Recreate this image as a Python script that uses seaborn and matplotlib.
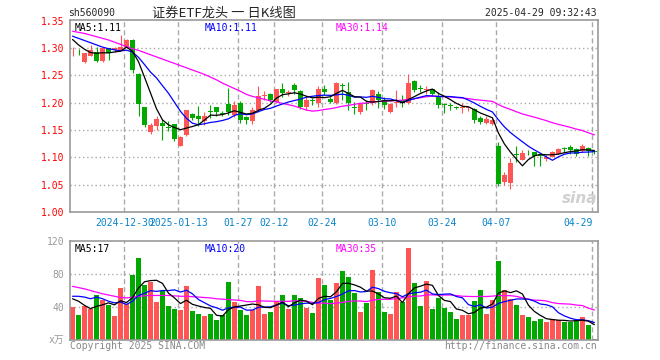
import numpy as np
import pandas as pd
import matplotlib
matplotlib.use("Agg")
import matplotlib.pyplot as plt
import seaborn as sns

# daily candles, index 0 = 2024-12-17 ... 87 = 2025-04-29
opens = [1.294, 1.2945, 1.274, 1.286, 1.2927, 1.2774, 1.300, 1.296, 1.297, 1.303,
         1.315, 1.253, 1.192, 1.1457, 1.158, 1.163, 1.155, 1.161, 1.121, 1.1415,
         1.180, 1.176, 1.166, 1.1835, 1.192, 1.1812, 1.198, 1.178, 1.200, 1.174,
         1.167, 1.187, 1.213, 1.217, 1.202, 1.225, 1.218, 1.2325, 1.221, 1.193,
         1.2045, 1.200, 1.226, 1.207, 1.199, 1.233, 1.220, 1.192, 1.184, 1.1995,
         1.199, 1.217, 1.206, 1.184, 1.200, 1.205, 1.199, 1.240, 1.226, 1.224,
         1.226, 1.211, 1.1985, 1.195, 1.192, 1.190, 1.190, 1.188, 1.172, 1.163,
         1.161, 1.121, 1.0555, 1.0537, 1.1065, 1.096, 1.1105, 1.110, 1.104, 1.0963,
         1.101, 1.107, 1.1155, 1.1195, 1.1146, 1.112, 1.118, 1.1112]
highs = [1.302, 1.298, 1.291, 1.305, 1.303, 1.301, 1.301, 1.302, 1.324, 1.316,
         1.317, 1.254, 1.193, 1.1628, 1.176, 1.170, 1.166, 1.162, 1.139, 1.187,
         1.182, 1.194, 1.184, 1.196, 1.192, 1.185, 1.227, 1.204, 1.204, 1.176,
         1.192, 1.230, 1.222, 1.218, 1.226, 1.236, 1.223, 1.237, 1.223, 1.212,
         1.208, 1.230, 1.232, 1.211, 1.238, 1.237, 1.238, 1.202, 1.200, 1.205,
         1.226, 1.222, 1.210, 1.199, 1.223, 1.214, 1.252, 1.241, 1.232, 1.230,
         1.226, 1.220, 1.200, 1.199, 1.195, 1.199, 1.193, 1.190, 1.175, 1.175,
         1.172, 1.129, 1.074, 1.098, 1.120, 1.113, 1.113, 1.110, 1.106, 1.104,
         1.1116, 1.1165, 1.1195, 1.1226, 1.1165, 1.1238, 1.1195, 1.1134]
lows = [1.285, 1.287, 1.272, 1.285, 1.275, 1.275, 1.279, 1.293, 1.296, 1.300,
        1.255, 1.175, 1.156, 1.1433, 1.1506, 1.131, 1.148, 1.130, 1.120, 1.139,
        1.168, 1.157, 1.160, 1.172, 1.176, 1.176, 1.178, 1.174, 1.163, 1.162,
        1.162, 1.184, 1.206, 1.202, 1.199, 1.210, 1.212, 1.217, 1.188, 1.187,
        1.196, 1.193, 1.214, 1.199, 1.198, 1.205, 1.187, 1.180, 1.180, 1.187,
        1.196, 1.190, 1.188, 1.182, 1.193, 1.192, 1.198, 1.220, 1.219, 1.217,
        1.214, 1.190, 1.182, 1.187, 1.188, 1.181, 1.185, 1.163, 1.162, 1.162,
        1.159, 1.048, 1.049, 1.043, 1.092, 1.095, 1.104, 1.085, 1.085, 1.094,
        1.100, 1.1055, 1.110, 1.107, 1.1025, 1.110, 1.1025, 1.107]
closes = [1.2945, 1.294, 1.291, 1.296, 1.2774, 1.300, 1.292, 1.300, 1.303, 1.315,
          1.260, 1.198, 1.1585, 1.1585, 1.170, 1.158, 1.153, 1.134, 1.138, 1.186,
          1.172, 1.170, 1.176, 1.183, 1.184, 1.180, 1.184, 1.196, 1.168, 1.169,
          1.187, 1.212, 1.214, 1.205, 1.225, 1.218, 1.220, 1.224, 1.193, 1.205,
          1.2035, 1.226, 1.220, 1.201, 1.236, 1.230, 1.199, 1.190, 1.197, 1.1975,
          1.223, 1.205, 1.196, 1.197, 1.202, 1.199, 1.236, 1.223, 1.225, 1.225,
          1.217, 1.196, 1.1965, 1.194, 1.191, 1.191, 1.191, 1.169, 1.164, 1.170,
          1.169, 1.052, 1.0677, 1.090, 1.105, 1.1085, 1.109, 1.102, 1.103, 1.1012,
          1.109, 1.1146, 1.115, 1.1134, 1.107, 1.1207, 1.112, 1.110]
volumes = [40, 30, 41, 38, 55, 49, 42, 29, 63, 44,
           79, 100, 67, 70, 46, 60, 41, 38, 36, 66,
           35, 31, 29, 31, 24, 30, 70, 46, 36, 30,
           36, 65, 31, 34, 46, 54, 37, 54, 51, 39,
           33, 75, 67, 48, 69, 84, 76, 57, 34, 45,
           85, 58, 34, 31, 58, 46, 112, 69, 41, 71,
           38, 51, 39, 34, 26, 30, 30, 47, 61, 31,
           49, 96, 61, 50, 42, 30, 28, 23, 26, 22,
           25, 24, 22, 22, 24, 28, 18, 1]

# moving-average values before the window is full
ma5_head = [1.316, 1.306, 1.298, 1.292]
ma10_head = [1.322, 1.318, 1.314, 1.310, 1.306, 1.302, 1.299, 1.297, 1.295]
ma30_head = [1.331, 1.329, 1.327, 1.324, 1.321, 1.318, 1.315, 1.311, 1.307, 1.303,
             1.299, 1.296, 1.292, 1.288, 1.284, 1.280, 1.276, 1.272, 1.268, 1.264,
             1.260, 1.256, 1.252, 1.247, 1.242, 1.236, 1.231, 1.226, 1.221]
vma5_head = [50, 47, 42, 38]
vma10_head = [53, 53, 52, 50, 52, 50, 47, 45, 46]
vma30_head = [65, 63.5, 62, 60, 58, 56, 54.5, 53, 51.5, 51,
              52, 53, 53.5, 54, 54, 54, 54, 53.5, 53, 53,
              52.5, 52, 51.5, 51, 50, 49.5, 49, 48.5, 48]

date_idx = [9, 18, 28, 34, 42, 52, 62, 71, 87]
date_labels = ["2024-12-30", "2025-01-13", "01-27", "02-12", "02-24",
               "03-10", "03-24", "04-07", "04-29"]
price_ticks = [1.00, 1.05, 1.10, 1.15, 1.20, 1.25, 1.30, 1.35]
vol_ticks = [40, 80, 120]

RED = "#ff5555"
GREEN = "#00a800"
GRID = "#aaaaaa"
FRAME = "#999999"
MONO = "DejaVu Sans Mono"


def moving(values, win, head):
    s = pd.Series(values, dtype=float).rolling(win).mean()
    s.iloc[:len(head)] = head
    return s.values


df = pd.DataFrame({"i": np.arange(len(closes)), "open": opens, "high": highs,
                   "low": lows, "close": closes, "vol": volumes})
df["up"] = np.where(df["close"] >= df["open"], "up", "down")
df["ma5"] = moving(closes, 5, ma5_head)
df["ma10"] = moving(closes, 10, ma10_head)
df["ma30"] = moving(closes, 30, ma30_head)
df["vma5"] = moving(volumes, 5, vma5_head)
df["vma10"] = moving(volumes, 10, vma10_head)
df["vma30"] = moving(volumes, 30, vma30_head)
cols = np.where(df["up"] == "up", RED, GREEN)

sns.set_style("white")
plt.rcParams["font.family"] = [MONO, "Noto Sans CJK SC"]

fig = plt.figure(figsize=(6.6, 3.6), dpi=100)
ax = fig.add_axes([70 / 660, 1 - 212 / 360, 528 / 660, 192 / 360])
axv = fig.add_axes([70 / 660, 1 - 340 / 360, 528 / 660, 99 / 360])

xlim = (-0.42, 87.6)
vx = [d - 0.35 for d in date_idx]

# price panel
for p in price_ticks[1:-1]:
    ax.axhline(p, color=GRID, lw=1, ls=(0, (1, 2)), zorder=0)
for x in vx:
    ax.axvline(x, color=GRID, lw=1, ls=(0, (3.6, 2.2)), zorder=0)

ax.vlines(df["i"], df["low"], df["high"], colors=cols, lw=0.8, zorder=2)
body_lo = np.minimum(df["open"], df["close"])
body_h = np.maximum((df["close"] - df["open"]).abs(), 0.0016)
ax.bar(df["i"], body_h, bottom=body_lo, width=0.8, color=cols, lw=0, zorder=3)

sns.lineplot(data=df, x="i", y="ma30", ax=ax, color="#ff00ff", lw=0.9, zorder=4)
sns.lineplot(data=df, x="i", y="ma10", ax=ax, color="#0000ff", lw=0.9, zorder=5)
sns.lineplot(data=df, x="i", y="ma5", ax=ax, color="black", lw=0.9, zorder=6)

ax.set_xlim(*xlim)
ax.set_ylim(1.0, 1.3516)
ax.set_yticks(price_ticks)
ax.set_yticklabels([f"{p:.2f}" for p in price_ticks], color="#ff0000", fontsize=7)
ax.set_xticks(vx)
ax.set_xticklabels(date_labels, color="#0a84c8", fontsize=7)
ax.get_xticklabels()[-1].set_ha("right")
ax.tick_params(length=0, pad=4)
ax.set_xlabel("")
ax.set_ylabel("")

ax.text(0.008, 0.985, "MA5:1.11", transform=ax.transAxes, fontsize=7,
        color="black", va="top")
ax.text(0.255, 0.985, "MA10:1.11", transform=ax.transAxes, fontsize=7,
        color="#0000ff", va="top")
ax.text(0.503, 0.985, "MA30:1.14", transform=ax.transAxes, fontsize=7,
        color="#ff00ff", va="top")
ax.text(0.998, 0.03, "sina", transform=ax.transAxes, fontsize=11,
        color="#d0d0d0", ha="right", va="bottom", style="italic",
        fontweight="bold", family="DejaVu Sans")

# volume panel
for v in vol_ticks[:-1]:
    axv.axhline(v, color=GRID, lw=1, ls=(0, (1, 2)), zorder=0)
for x in vx:
    axv.axvline(x, color=GRID, lw=1, ls=(0, (3.6, 2.2)), zorder=0)

sns.barplot(data=df, x="i", y="vol", hue="up", palette={"up": RED, "down": GREEN},
            native_scale=True, width=0.8, dodge=False, errorbar=None,
            saturation=1, legend=False, linewidth=0, ax=axv, zorder=2)
sns.lineplot(data=df, x="i", y="vma30", ax=axv, color="#ff00ff", lw=0.9, zorder=4)
sns.lineplot(data=df, x="i", y="vma10", ax=axv, color="#0000ff", lw=0.9, zorder=5)
sns.lineplot(data=df, x="i", y="vma5", ax=axv, color="black", lw=0.9, zorder=6)

axv.set_xlim(*xlim)
axv.set_ylim(0, 120)
axv.set_yticks(vol_ticks)
axv.set_yticklabels([str(v) for v in vol_ticks], color=FRAME, fontsize=7)
axv.set_xticks([])
axv.tick_params(length=0, pad=4)
axv.set_xlabel("")
axv.set_ylabel("")

axv.text(0.008, 0.97, "MA5:17", transform=axv.transAxes, fontsize=7,
         color="black", va="top")
axv.text(0.255, 0.97, "MA10:20", transform=axv.transAxes, fontsize=7,
         color="#0000ff", va="top")
axv.text(0.503, 0.97, "MA30:35", transform=axv.transAxes, fontsize=7,
         color="#ff00ff", va="top")

for a in (ax, axv):
    for sp in a.spines.values():
        sp.set_color(FRAME)
        sp.set_linewidth(1.2)

# header and footer texts
fig.text(68 / 660, 1 - 13 / 360, "sh560090", fontsize=7, va="center")
fig.text(224 / 660, 1 - 13 / 360, "证券ETF龙头 一 日K线图", fontsize=9.5,
         ha="center", va="center", family=["Noto Sans CJK SC"])
fig.text(597 / 660, 1 - 13 / 360, "2025-04-29 09:32:43", fontsize=7,
         ha="right", va="center")
fig.text(64 / 660, 1 - 340 / 360, "x万", fontsize=7, color=FRAME,
         ha="right", va="center")
fig.text(70 / 660, 1 - 346 / 360, "Copyright 2025 SINA.COM", fontsize=7,
         color="#888888", va="center")
fig.text(597 / 660, 1 - 346 / 360, "http://finance.sina.com.cn", fontsize=7,
         color="#888888", ha="right", va="center")

fig.savefig("out.png", dpi=100)
